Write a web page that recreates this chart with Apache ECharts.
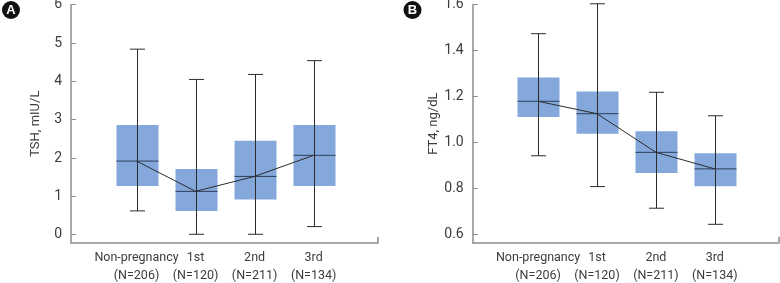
<!DOCTYPE html>
<html>
<head>
<meta charset="utf-8">
<script src="https://cdn.jsdelivr.net/npm/echarts@6/dist/echarts.min.js"></script>
<style>
  html, body { margin: 0; padding: 0; background: #fff; }
  #chart { width: 780px; height: 283px; }
</style>
</head>
<body>
<div id="chart"></div>
<script>
// groups on the x axis
const categories = ['Non-pregnancy', '1st', '2nd', '3rd']
const groupCounts = ['(N=206)', '(N=120)', '(N=211)', '(N=134)']
const groupPos = [1, 2, 3, 4]

// A - TSH, mIU/L
const tshMin = [0.62, 0.01, 0.01, 0.21]
const tshQ1 = [1.27, 0.62, 0.92, 1.27]
const tshMedian = [1.92, 1.13, 1.52, 2.07]
const tshQ3 = [2.86, 1.71, 2.45, 2.86]
const tshMax = [4.84, 4.05, 4.18, 4.54]
const tshTicks = [0, 1, 2, 3, 4, 5, 6]

// B - FT4, ng/dL
const ft4Min = [0.943, 0.809, 0.715, 0.645]
const ft4Q1 = [1.112, 1.039, 0.868, 0.81]
const ft4Median = [1.18, 1.126, 0.958, 0.886]
const ft4Q3 = [1.283, 1.222, 1.05, 0.954]
const ft4Max = [1.474, 1.604, 1.219, 1.117]
const ft4Ticks = [0.6, 0.8, 1.0, 1.2, 1.4, 1.6]

const FONT = "Roboto, 'Liberation Sans', sans-serif"
const AXIS_COLOR = '#8c8c8c'
const TEXT_COLOR = '#3c3c3c'
const BOX_COLOR = '#85a8dc'
const LINE_COLOR = '#2b2b2b'
const X_MIN = -0.11
const X_MAX = 5.09

const chart = echarts.init(document.getElementById('chart'))

function boxData(mins, q1s, meds, q3s, maxs) {
  return groupPos.map((x, i) => [x, mins[i], q1s[i], meds[i], q3s[i], maxs[i]])
}

// draw one box with whisker through the library's coords
function renderBox(params, api) {
  const x = api.value(0)
  const pMin = api.coord([x, api.value(1)])
  const pQ1 = api.coord([x, api.value(2)])
  const pMed = api.coord([x, api.value(3)])
  const pQ3 = api.coord([x, api.value(4)])
  const pMax = api.coord([x, api.value(5)])
  const halfBox = 21
  const halfCap = 7.5
  const cx = Math.round(pMed[0]) + 0.5
  const lineStyle = { stroke: LINE_COLOR, lineWidth: 1 }
  return {
    type: 'group',
    children: [
      {
        type: 'rect',
        shape: { x: cx - halfBox, y: pQ3[1], width: halfBox * 2, height: pQ1[1] - pQ3[1] },
        style: { fill: BOX_COLOR }
      },
      {
        type: 'line',
        shape: { x1: cx, y1: pMin[1], x2: cx, y2: pMax[1] },
        style: lineStyle
      },
      {
        type: 'line',
        shape: { x1: cx - halfCap, y1: pMin[1], x2: cx + halfCap, y2: pMin[1] },
        style: lineStyle
      },
      {
        type: 'line',
        shape: { x1: cx - halfCap, y1: pMax[1], x2: cx + halfCap, y2: pMax[1] },
        style: lineStyle
      },
      {
        type: 'line',
        shape: { x1: cx - halfBox, y1: pMed[1], x2: cx + halfBox, y2: pMed[1] },
        style: { stroke: '#2c3e58', lineWidth: 1 }
      }
    ]
  }
}

// main x axis: line, end tick and group names
function xAxisFor(gridIndex) {
  return {
    type: 'value',
    gridIndex,
    position: 'bottom',
    min: X_MIN,
    max: X_MAX,
    splitLine: { show: false },
    axisLine: { show: true, onZero: false, lineStyle: { color: AXIS_COLOR, width: 1.5 } },
    axisTick: { show: true, inside: true, length: 6, customValues: [X_MAX], lineStyle: { color: AXIS_COLOR, width: 1.5 } },
    axisLabel: {
      customValues: groupPos,
      showMinLabel: true,
      showMaxLabel: true,
      hideOverlap: false,
      margin: 9,
      color: TEXT_COLOR,
      fontFamily: FONT,
      fontSize: 12.5,
      formatter: v => categories[v - 1]
    }
  }
}

// second row of labels: group sizes
function countAxisFor(gridIndex) {
  return {
    type: 'value',
    gridIndex,
    position: 'bottom',
    min: X_MIN,
    max: X_MAX,
    splitLine: { show: false },
    axisLine: { show: false, onZero: false },
    axisTick: { show: false },
    axisLabel: {
      customValues: groupPos,
      showMinLabel: true,
      showMaxLabel: true,
      hideOverlap: false,
      margin: 26.5,
      color: TEXT_COLOR,
      fontFamily: FONT,
      fontSize: 12.5,
      formatter: v => groupCounts[v - 1]
    }
  }
}

function yAxisFor(gridIndex, min, max, ticks, name, digits) {
  return {
    type: 'value',
    gridIndex,
    min,
    max,
    name,
    nameLocation: 'middle',
    nameGap: 29,
    nameTextStyle: { color: TEXT_COLOR, fontFamily: FONT, fontSize: 13 },
    splitLine: { show: false },
    axisLine: { show: true, onZero: false, lineStyle: { color: AXIS_COLOR, width: 1.5 } },
    axisTick: { show: true, inside: true, length: 5, customValues: ticks, lineStyle: { color: AXIS_COLOR, width: 1 } },
    axisLabel: {
      customValues: ticks,
      margin: 9,
      color: TEXT_COLOR,
      fontFamily: FONT,
      fontSize: 14,
      formatter: v => v.toFixed(digits)
    }
  }
}

chart.setOption({
  animation: false,
  grid: [
    { left: 71, right: 402, top: 4.7, bottom: 40.3, outerBoundsMode: 'none', containLabel: false },
    { left: 472.7, right: 1, top: 4.7, bottom: 40.3, outerBoundsMode: 'none', containLabel: false }
  ],
  xAxis: [xAxisFor(0), countAxisFor(0), xAxisFor(1), countAxisFor(1)],
  yAxis: [
    yAxisFor(0, -0.21, 6, tshTicks, 'TSH, mIU/L', 0),
    yAxisFor(1, 0.565, 1.6, ft4Ticks, 'FT4, ng/dL', 1)
  ],
  graphic: [
    { type: 'circle', shape: { cx: 11, cy: 10, r: 9 }, style: { fill: '#111' } },
    { type: 'text', x: 11, y: 10, style: { text: 'A', fill: '#fff', font: "bold 13px 'Liberation Sans', sans-serif", align: 'center', verticalAlign: 'middle' } },
    { type: 'circle', shape: { cx: 412.5, cy: 10, r: 9 }, style: { fill: '#111' } },
    { type: 'text', x: 412.5, y: 10, style: { text: 'B', fill: '#fff', font: "bold 13px 'Liberation Sans', sans-serif", align: 'center', verticalAlign: 'middle' } }
  ],
  series: [
    {
      type: 'custom',
      xAxisIndex: 0,
      yAxisIndex: 0,
      renderItem: renderBox,
      encode: { x: 0, y: [1, 2, 3, 4, 5] },
      data: boxData(tshMin, tshQ1, tshMedian, tshQ3, tshMax)
    },
    {
      type: 'line',
      xAxisIndex: 0,
      yAxisIndex: 0,
      symbol: 'none',
      lineStyle: { color: LINE_COLOR, width: 1 },
      data: groupPos.map((x, i) => [x, tshMedian[i]]),
      z: 5
    },
    {
      type: 'custom',
      xAxisIndex: 2,
      yAxisIndex: 1,
      renderItem: renderBox,
      encode: { x: 0, y: [1, 2, 3, 4, 5] },
      data: boxData(ft4Min, ft4Q1, ft4Median, ft4Q3, ft4Max)
    },
    {
      type: 'line',
      xAxisIndex: 2,
      yAxisIndex: 1,
      symbol: 'none',
      lineStyle: { color: LINE_COLOR, width: 1 },
      data: groupPos.map((x, i) => [x, ft4Median[i]]),
      z: 5
    }
  ]
})
</script>
</body>
</html>
